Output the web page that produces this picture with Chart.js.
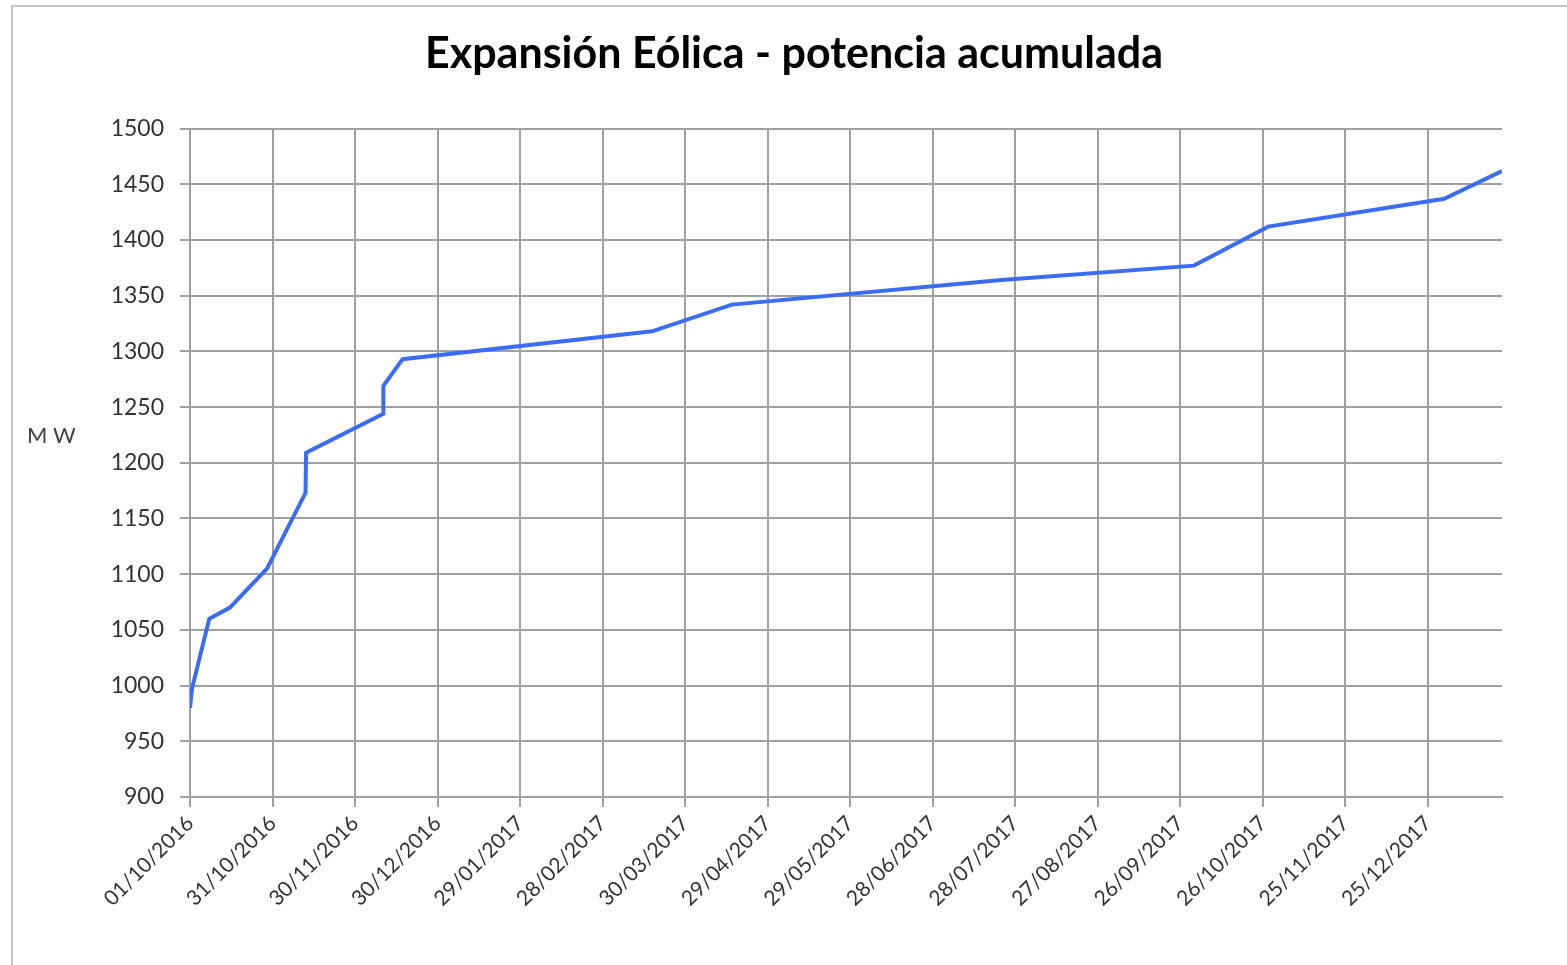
<!DOCTYPE html>
<html lang="es">
<head>
<meta charset="UTF-8">
<title>Expansión Eólica - potencia acumulada</title>
<script src="https://cdn.jsdelivr.net/npm/chart.js"></script>
<style>
    html, body { margin: 0; padding: 0; background: #fff; overflow: hidden; }
    #frame { position: absolute; left: 11px; top: 5px; width: 1600px; height: 1000px;
             border-left: 2px solid #c4c4c4; border-top: 2px solid #c4c4c4; }
    #wrap { position: absolute; left: 0; top: 0; width: 1567px; height: 965px; }
</style>
</head>
<body>
<div id="frame"></div>
<div id="wrap"><canvas id="chart"></canvas></div>
<script>
// días desde 01/10/2016 y potencia acumulada (MW)
const days = [0, 0.8, 7, 14.5, 28, 42, 42.2, 70.3, 70.3, 77.3, 168, 197, 295, 365, 392, 456, 477];
const mw   = [980, 998, 1060, 1070, 1105, 1173, 1209, 1244, 1269, 1293, 1318, 1342, 1364, 1377, 1412, 1437, 1462];

const startDate = new Date(2016, 9, 1);
const yTicks = [900, 950, 1000, 1050, 1100, 1150, 1200, 1250, 1300, 1350, 1400, 1450, 1500];

function fmtDate(d) {
    const dt = new Date(startDate.getFullYear(), startDate.getMonth(), startDate.getDate() + d);
    const dd = String(dt.getDate()).padStart(2, '0');
    const mm = String(dt.getMonth() + 1).padStart(2, '0');
    return dd + '/' + mm + '/' + dt.getFullYear();
}

const points = days.map((d, i) => ({ x: d, y: mw[i] }));

// etiqueta "MW" horizontal a la izquierda
const mwLabel = {
    id: 'mwLabel',
    afterDraw(c) {
        const ctx = c.ctx;
        ctx.save();
        ctx.font = '22px Lato';
        ctx.fillStyle = '#404040';
        ctx.textAlign = 'left';
        ctx.textBaseline = 'middle';
        ctx.fillText('M W', 27, 436);
        ctx.restore();
    }
};

const gridColor = '#a0a0a0';
const padLeft = 86;

new Chart(document.getElementById('chart'), {
    type: 'line',
    data: {
        datasets: [{
            data: points,
            borderColor: '#3a6cf8',
            borderWidth: 4,
            pointRadius: 0,
            tension: 0,
            fill: false
        }]
    },
    options: {
        responsive: true,
        maintainAspectRatio: false,
        animation: false,
        layout: { padding: { left: padLeft, right: 65, top: 0, bottom: 0 } },
        plugins: {
            legend: { display: false },
            tooltip: { enabled: false },
            title: {
                display: true,
                text: 'Expansión Eólica - potencia acumulada',
                color: '#000',
                font: { family: 'Lato', size: 43, weight: 'bold' },
                padding: { top: 28, bottom: 49 }
            }
        },
        scales: {
            x: {
                type: 'linear',
                min: 0,
                max: 477,
                afterBuildTicks(s) {
                    s.ticks = [];
                    for (let v = 0; v <= 450; v += 30) s.ticks.push({ value: v });
                },
                afterFit(s) { s.height = 168; },
                ticks: {
                    autoSkip: false,
                    minRotation: 45,
                    maxRotation: 45,
                    padding: 4,
                    color: '#333',
                    font: { family: 'Lato', size: 21 },
                    callback: v => fmtDate(v)
                },
                grid: { color: gridColor, lineWidth: 2, tickLength: 10, drawTicks: true },
                border: { color: gridColor, width: 2 }
            },
            y: {
                min: 900,
                max: 1500,
                afterBuildTicks(s) { s.ticks = yTicks.map(v => ({ value: v })); },
                afterFit(s) { s.width = 190 - padLeft; },
                ticks: {
                    padding: 16,
                    color: '#333',
                    font: { family: 'Lato', size: 23 },
                    callback: v => String(v)
                },
                grid: { color: gridColor, lineWidth: 2, tickLength: 10, drawTicks: true },
                border: { color: gridColor, width: 2 }
            }
        }
    },
    plugins: [mwLabel]
});
</script>
</body>
</html>
